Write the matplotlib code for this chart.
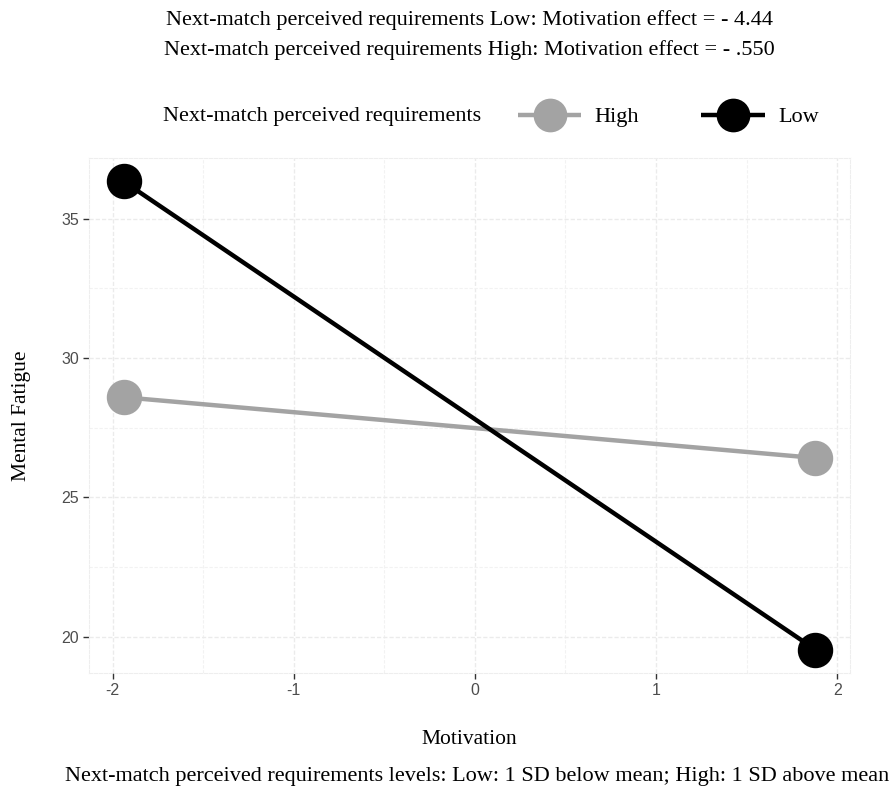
import matplotlib
matplotlib.use("Agg")
import matplotlib.pyplot as plt

# Data
motivation = [-1.94, 1.88]
groups = ["High", "Low"]
fatigue_high = [28.59, 26.41]
fatigue_low = [36.34, 19.53]
x_ticks = [-2, -1, 0, 1, 2]
y_ticks = [20, 25, 30, 35]
title_lines = [
    "Next-match perceived requirements Low: Motivation effect = - 4.44",
    "Next-match perceived requirements High: Motivation effect = - .550",
]
legend_title = "Next-match perceived requirements"
caption = "Next-match perceived requirements levels: Low: 1 SD below mean; High: 1 SD above mean"

W, H = 892, 790
fig = plt.figure(figsize=(W / 100, H / 100), dpi=100)
fig.patch.set_facecolor("white")

L, R, T, B = 89, 850, 158, 673
ax = fig.add_axes([L / W, 1 - B / H, (R - L) / W, (B - T) / H])

serif = ["Liberation Serif", "DejaVu Serif"]
sans = ["Liberation Sans", "DejaVu Sans"]
FS = 16

gray_col = "#a3a3a3"
line_high, = ax.plot(motivation, fatigue_high, color=gray_col, lw=3.2, marker="o",
                     ms=24.5, mfc=gray_col, mec=gray_col, solid_capstyle="butt", zorder=3, label="High")
line_low, = ax.plot(motivation, fatigue_low, color="black", lw=3.2, marker="o",
                    ms=24.5, mfc="black", mec="black", solid_capstyle="butt", zorder=4, label="Low")

# limits with ggplot-style 5% expansion
xr = motivation[1] - motivation[0]
ax.set_xlim(motivation[0] - 0.05 * xr, motivation[1] + 0.05 * xr)
ally = fatigue_high + fatigue_low
yr = max(ally) - min(ally)
ax.set_ylim(min(ally) - 0.05 * yr, max(ally) + 0.05 * yr)

ax.set_xticks(x_ticks)
ax.set_xticklabels([str(v) for v in x_ticks])
ax.set_yticks(y_ticks)
ax.set_yticklabels([str(v) for v in y_ticks])
ax.set_xticks([-1.5, -0.5, 0.5, 1.5], minor=True)
ax.set_yticks([22.5, 27.5, 32.5], minor=True)
ax.tick_params(which="minor", length=0)
ax.tick_params(which="major", length=4, width=1, color="#333333", labelcolor="#4d4d4d",
               labelsize=11.5, pad=3)
for lab in ax.get_xticklabels() + ax.get_yticklabels():
    lab.set_family(sans)

ax.grid(True, which="major", color="#ebebeb", lw=1.0, ls=(0, (3, 1.5)), zorder=0)
ax.grid(True, which="minor", color="#f2f2f2", lw=0.8, ls=(0, (3, 1.5)), zorder=0)
ax.set_axisbelow(True)
for s in ax.spines.values():
    s.set_color("#eeeeee")
    s.set_linewidth(0.8)
    s.set_linestyle((0, (3, 1.5)))

ax.set_xlabel("Motivation", family=serif, fontsize=15.5, labelpad=23)
ax.set_ylabel("Mental Fatigue", family=serif, fontsize=15.5, labelpad=22)

# titles
fig.text(469 / W, 1 - 20 / H, title_lines[0], family=serif, fontsize=FS, ha="center", va="center")
fig.text(469 / W, 1 - 50 / H, title_lines[1], family=serif, fontsize=FS, ha="center", va="center")

# legend
fig.text(163 / W, 1 - 116 / H, legend_title, family=serif, fontsize=FS, ha="left", va="center")
leg = fig.legend(handles=[line_high, line_low], labels=groups, ncol=2, frameon=False,
                 loc="center left", bbox_to_anchor=(518 / W, 1 - 117 / H),
                 prop={"family": serif, "size": FS}, handlelength=2.85,
                 columnspacing=2.8, handletextpad=0.6, markerscale=0.95,
                 borderpad=0, borderaxespad=0)

# caption
fig.text(889 / W, 1 - 777 / H, caption, family=serif, fontsize=FS, ha="right", va="center")

fig.savefig("out.png", dpi=100, facecolor="white")
